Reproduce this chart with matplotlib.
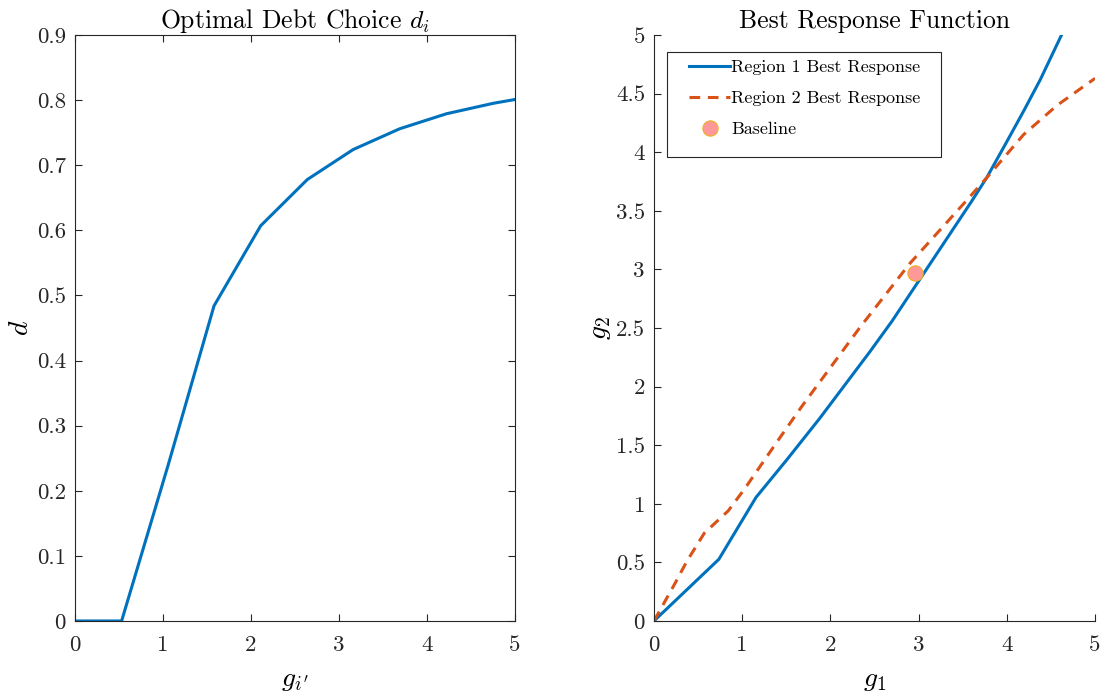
import matplotlib
matplotlib.use("Agg")
import matplotlib.pyplot as plt
from matplotlib.patches import Rectangle

# left panel: optimal debt choice
g_other = [0, 0.53, 1.06, 1.58, 2.11, 2.64, 3.16, 3.69, 4.22, 4.75, 5.0]
debt = [0, 0, 0.24, 0.484, 0.607, 0.678, 0.724, 0.756, 0.779, 0.795, 0.801]

# right panel: best responses
g1_region1 = [0, 0.735, 1.157, 1.5, 1.88, 2.18, 2.45, 2.7, 3.0, 3.3, 3.6, 3.77, 4.0, 4.19, 4.38, 4.62]
g2_region1 = [0, 0.526, 1.055, 1.37, 1.73, 2.03, 2.30, 2.56, 2.90, 3.24, 3.58, 3.78, 4.09, 4.35, 4.62, 5.0]
g1_region2 = [0, 0.238, 0.37, 0.571, 0.842, 1.03, 1.41, 1.675, 2.34, 2.90, 3.51, 3.77, 4.19, 4.57, 5.0]
g2_region2 = [0, 0.32, 0.506, 0.75, 0.94, 1.13, 1.545, 1.83, 2.51, 3.05, 3.56, 3.78, 4.15, 4.40, 4.63]
baseline = (2.96, 2.97)

left_ticks_y = [0, 0.1, 0.2, 0.3, 0.4, 0.5, 0.6, 0.7, 0.8, 0.9]
right_ticks_y = [0, 0.5, 1, 1.5, 2, 2.5, 3, 3.5, 4, 4.5, 5]
ticks_x = [0, 1, 2, 3, 4, 5]

BLUE = "#0072BD"
ORANGE = "#D95319"
AXCOL = "#262626"

plt.rcParams["font.family"] = ["cmr10", "DejaVu Serif"]
plt.rcParams["mathtext.fontset"] = "cm"
plt.rcParams["axes.formatter.use_mathtext"] = True


def style_axes(ax, box):
    for side in ["left", "bottom", "top", "right"]:
        ax.spines[side].set_color(AXCOL)
        ax.spines[side].set_linewidth(0.8)
    if not box:
        ax.spines["top"].set_visible(False)
        ax.spines["right"].set_visible(False)
    ax.tick_params(direction="in", length=5, width=0.8, colors=AXCOL,
                   labelsize=16.5, top=box, right=box, pad=6.5)
    ax.tick_params(axis="x", pad=10.5)


fig = plt.figure(figsize=(11.09, 7.0), dpi=100)
ax1 = fig.add_axes([0.0676, 0.1129, 0.3968, 0.8371])
ax2 = fig.add_axes([0.5897, 0.1129, 0.3977, 0.8371])

ax1.plot(g_other, debt, color=BLUE, lw=2.2)
ax1.set_xlim(0, 5)
ax1.set_ylim(0, 0.9)
ax1.set_xticks(ticks_x)
ax1.set_yticks(left_ticks_y)
ax1.set_yticklabels([f"{v:g}" for v in left_ticks_y])
ax1.set_xticklabels([f"{v:g}" for v in ticks_x])
ax1.set_title("Optimal Debt Choice $d_i$", fontsize=18.5, pad=5)
ax1.set_xlabel("$g_{i'}$", fontsize=20, labelpad=8)
ax1.set_ylabel("$d$", fontsize=20, labelpad=2)
style_axes(ax1, True)

ax2.plot(g1_region1, g2_region1, color=BLUE, lw=2.2, label="Region 1 Best Response")
ax2.plot(g1_region2, g2_region2, color=ORANGE, lw=2.2, ls=(0, (3.5, 2.5)),
         label="Region 2 Best Response")
ax2.plot([baseline[0]], [baseline[1]], "o", ms=11, mfc="#FF9999",
         mec="#EDB120", mew=0.8, ls="none", label="Baseline")
ax2.set_xlim(0, 5)
ax2.set_ylim(0, 5)
ax2.set_xticks(ticks_x)
ax2.set_yticks(right_ticks_y)
ax2.set_yticklabels([f"{v:g}" for v in right_ticks_y])
ax2.set_xticklabels([f"{v:g}" for v in ticks_x])
ax2.set_title("Best Response Function", fontsize=18.5, pad=5)
ax2.set_xlabel("$g_1$", fontsize=20, labelpad=8)
ax2.set_ylabel("$g_2$", fontsize=20, labelpad=2)
style_axes(ax2, False)

# legend box drawn by hand so the side padding can be wider than the top
ax2.add_patch(Rectangle((0.0295, 0.792), 0.6215, 0.179, transform=ax2.transAxes,
                        facecolor="white", edgecolor=AXCOL, lw=0.8, zorder=4))
leg = ax2.legend(loc="upper left", bbox_to_anchor=(0.079, 0.958), borderaxespad=0,
                 fontsize=13, frameon=False, handlelength=2.3,
                 handletextpad=0.05, borderpad=0, labelspacing=0.85)
leg.set_zorder(5)

fig.savefig("out.png", dpi=100)
